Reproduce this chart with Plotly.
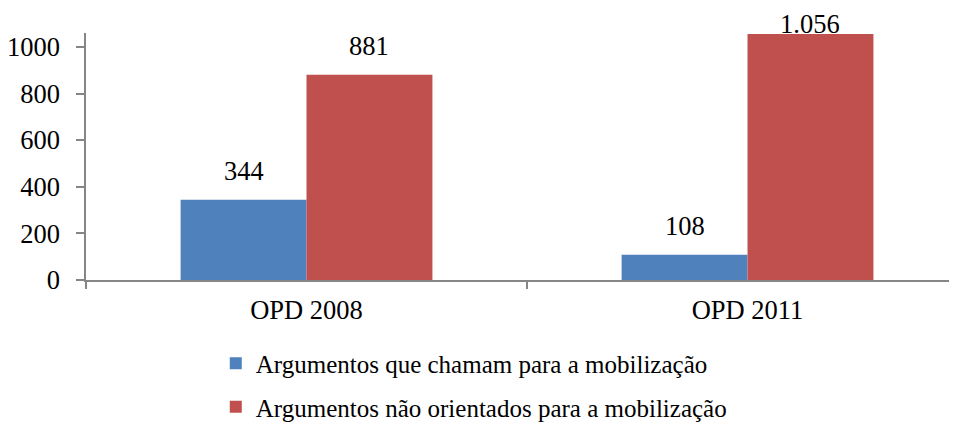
import plotly.graph_objects as go

categories = ["OPD 2008", "OPD 2011"]
mobilizacao = [344, 108]
nao_orientados = [881, 1056]
series_names = ["Argumentos que chamam para a mobilização",
                "Argumentos não orientados para a mobilização"]
y_ticks = [0, 200, 400, 600, 800, 1000]

FONT = "Liberation Serif"
AXIS = "#868686"
# the page adds an 8px body margin, so the figure is 8px smaller than the window
W, H = 949, 415
ML, MR, MT, MB = 78, 0, 25, 143
XRANGE = [-0.5, 1.475]
YRANGE = [0, 1060]
BARGAP = 0.429
FS = 26.5
LFS = 25

fig = go.Figure()
fig.add_trace(go.Bar(
    x=categories, y=mobilizacao, name=series_names[0], legendgroup="a",
    marker=dict(color="#4F81BD", line=dict(width=0)),
))
fig.add_trace(go.Bar(
    x=categories, y=nao_orientados, name=series_names[1], legendgroup="b",
    marker=dict(color="#C0504D", line=dict(width=0)),
))

# data labels as annotations above each bar
plot_w = W - ML - MR
plot_h = H - MT - MB
cat_px = plot_w / (XRANGE[1] - XRANGE[0])
bar_px = cat_px * (1 - BARGAP) / 2
for series, sign in ((mobilizacao, -1), (nao_orientados, 1)):
    for cat, val in zip(categories, series):
        top_px = MT + plot_h * (1 - val / YRANGE[1])
        ys = min(14, top_px - 31)
        fig.add_annotation(
            x=cat, y=val, xref="x", yref="y", text=f"{val:,}".replace(",", "."),
            showarrow=False, xshift=sign * bar_px / 2, yshift=ys,
            yanchor="bottom", height=26, valign="middle",
            font=dict(family=FONT, size=FS, color="black"),
        )

fig.update_layout(
    width=W, height=H,
    margin=dict(l=ML, r=MR, t=MT, b=MB, autoexpand=False),
    paper_bgcolor="white", plot_bgcolor="white",
    barmode="group", bargap=BARGAP, bargroupgap=0,
    font=dict(family=FONT, size=FS, color="black"),
    showlegend=True,
    legend=dict(
        orientation="v", x=0.149, xanchor="left", y=-0.245, yanchor="top",
        font=dict(family=FONT, size=LFS, color="black"),
        traceorder="grouped", tracegroupgap=8, itemclick=False,
        bgcolor="rgba(0,0,0,0)",
    ),
    xaxis=dict(
        type="category", range=XRANGE, showgrid=False, automargin=False,
        showline=True, linecolor=AXIS, linewidth=1.5,
        ticks="outside", tickson="boundaries", ticklen=7, tickcolor=AXIS,
        tickwidth=1.5, tickfont=dict(family=FONT, size=FS, color="black"),
        ticklabelstandoff=5, zeroline=False,
    ),
    yaxis=dict(
        range=YRANGE, tickvals=y_ticks, tickformat="d", showgrid=False,
        automargin=False,
        showline=True, linecolor=AXIS, linewidth=1.5,
        ticks="outside", ticklen=8, tickcolor=AXIS, tickwidth=1.5,
        tickfont=dict(family=FONT, size=FS, color="black"),
        ticklabelstandoff=11, zeroline=False,
    ),
)

fig.write_html("out.html")
